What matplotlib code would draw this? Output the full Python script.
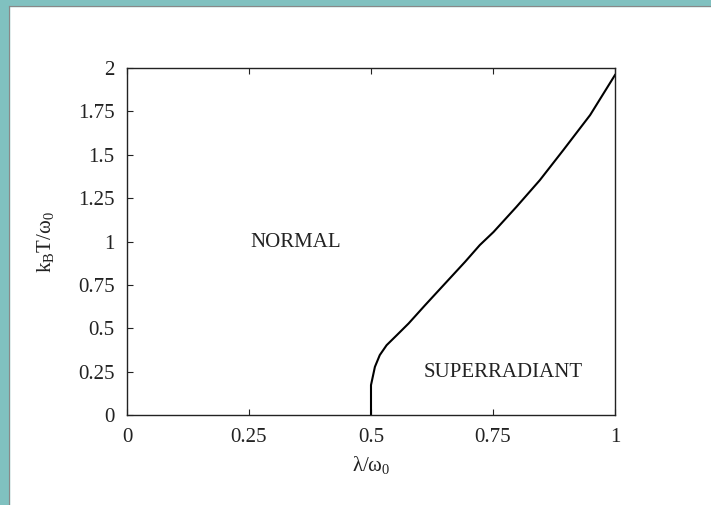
import matplotlib
matplotlib.use('Agg')
import matplotlib.pyplot as plt
from matplotlib.patches import Rectangle

# phase boundary T_c(lambda)
lam = [0.5, 0.5, 0.508, 0.518, 0.532, 0.553, 0.577, 0.611, 0.652, 0.693,
       0.723, 0.751, 0.798, 0.846, 0.894, 0.949, 1.0]
temp = [0.0, 0.173, 0.278, 0.346, 0.403, 0.461, 0.528, 0.634, 0.759, 0.884,
        0.98, 1.055, 1.2, 1.354, 1.527, 1.729, 1.96]

xticks = [0, 0.25, 0.5, 0.75, 1]
xticklabels = ['0', '0.25', '0.5', '0.75', '1']
yticks = [0, 0.25, 0.5, 0.75, 1, 1.25, 1.5, 1.75, 2]
yticklabels = ['0', '0.25', '0.5', '0.75', '1', '1.25', '1.5', '1.75', '2']

plt.rcParams['font.family'] = ['Liberation Serif', 'DejaVu Serif']
plt.rcParams['mathtext.default'] = 'regular'

fig = plt.figure(figsize=(7.11, 5.05), dpi=100)
ax = fig.add_axes([0.1786, 0.178, 0.6864, 0.6873])

ax.plot(lam, temp, color='black', lw=1.5)

ax.set_xlim(0, 1)
ax.set_ylim(0, 2)
ax.set_xticks(xticks)
ax.set_xticklabels(xticklabels)
ax.set_yticks(yticks)
ax.set_yticklabels(yticklabels)
ax.tick_params(direction='in', length=4.5, width=0.8, labelsize=15,
               colors='#222222', pad=9, top=True, right=False)
for s in ax.spines.values():
    s.set_linewidth(1.0)
    s.set_color('#222222')

ax.set_xlabel(r'$\lambda/\omega_0$', fontsize=15, color='#222222', labelpad=5)
ax.set_ylabel(r'$k_B T/\omega_0$', fontsize=15, color='#222222', labelpad=16)

ax.text(0.346, 0.997, 'NORMAL', fontsize=15, color='#222222',
        ha='center', va='center')
ax.text(0.77, 0.248, 'SUPERRADIANT', fontsize=15, color='#222222',
        ha='center', va='center')

# slide frame: teal strip on the left and top with a thin grey edge
w = 9 / 711
h = 6 / 505
fig.patches.append(Rectangle((0, 0), w, 1, transform=fig.transFigure,
                             color='#80c1c0', zorder=0))
fig.patches.append(Rectangle((0, 1 - h), 1, h, transform=fig.transFigure,
                             color='#80c1c0', zorder=0))
fig.add_artist(plt.Line2D([w, w], [0, 1 - h], transform=fig.transFigure,
                          color='#888888', lw=0.8))
fig.add_artist(plt.Line2D([w, 1], [1 - h, 1 - h], transform=fig.transFigure,
                          color='#888888', lw=0.8))

fig.savefig('out.png', dpi=100)
